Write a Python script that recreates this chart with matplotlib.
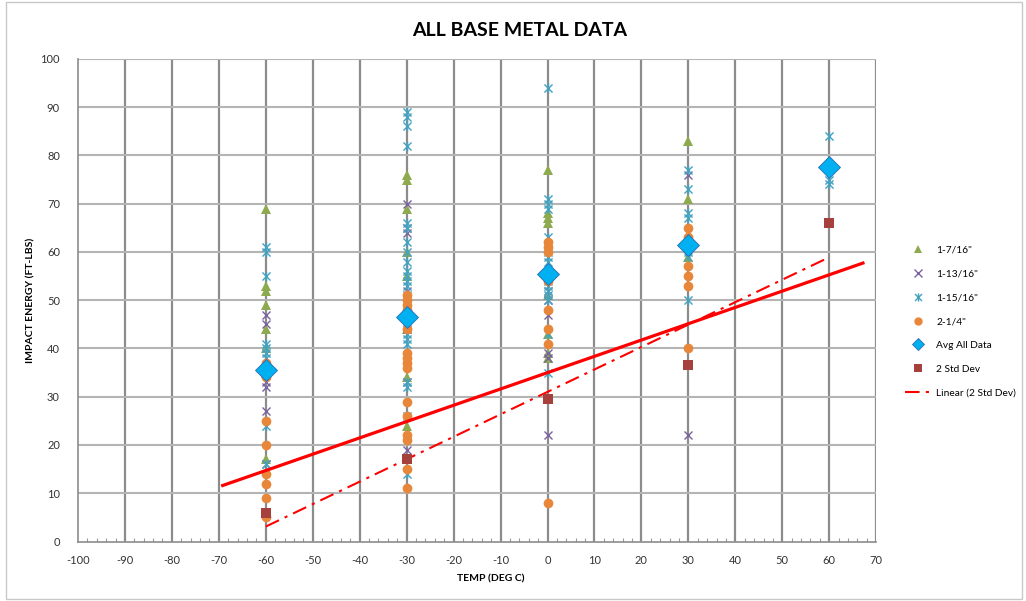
import numpy as np
import matplotlib
matplotlib.use("Agg")
import matplotlib.pyplot as plt
from matplotlib.path import Path
from matplotlib.patches import Rectangle
from matplotlib.ticker import MultipleLocator

plt.rcParams['font.family'] = ['Lato', 'DejaVu Sans']
plt.rcParams['axes.unicode_minus'] = False

# ---------------- data ----------------
title = "ALL BASE METAL DATA"
x_label = "TEMP (DEG C)"
y_label = "IMPACT ENERGY (FT-LBS)"

temps = [-60, -30, 0, 30, 60]

s1_name = '1-7/16"'
s1_vals = {-60: [69, 53, 52, 49, 44, 40, 35, 17],
           -30: [76, 75, 69, 60, 55, 44, 34, 24],
           0: [77, 68, 67, 66, 51, 43, 39, 38],
           30: [83, 71, 59],
           60: []}

s2_name = '1-13/16"'
s2_vals = {-60: [47, 45, 33, 32, 27, 16],
           -30: [70, 65, 64, 52, 44, 33, 19],
           0: [55, 52, 50, 47, 39, 38, 22],
           30: [76, 22],
           60: []}

s3_name = '1-15/16"'
s3_vals = {-60: [61, 60, 55, 41, 40, 39, 38, 24, 16],
           -30: [89, 88, 86, 82, 66, 65, 62, 60, 58, 56, 55, 54, 53, 51,
                 45, 43, 42, 41, 33, 32, 26, 14],
           0: [94, 71, 70, 69, 63, 60, 59, 58, 54, 53, 52, 51, 50, 43, 35],
           30: [77, 73, 68, 67, 60, 59, 50],
           60: [84, 75, 74]}

s4_name = '2-1/4"'
s4_vals = {-60: [37, 35, 34, 25, 20, 14, 12, 9, 5],
           -30: [51, 50, 49, 48, 47, 46, 44, 39, 38, 37, 36, 29, 26, 22, 21, 15, 11],
           0: [62, 61, 60, 56, 55, 54, 48, 44, 41, 8],
           30: [65, 63, 57, 55, 53, 40],
           60: []}

avg_name = "Avg All Data"
avg_vals = [35.5, 46.5, 55.5, 61.5, 77.5]

std_name = "2 Std Dev"
std_vals = [6, 17, 29.5, 36.5, 66]

trend_name = "Linear (2 Std Dev)"

solid_line_x = [-69.5, 67.5]
solid_line_y = [11.5, 57.8]

x_ticks = list(range(-100, 71, 10))
y_ticks = list(range(0, 101, 10))


def flatten(d):
    xs, ys = [], []
    for t in temps:
        for v in d[t]:
            xs.append(t)
            ys.append(v)
    return xs, ys


# asterisk marker (Excel "star")
M, L = Path.MOVETO, Path.LINETO
star = Path([(-1, -1), (1, 1), (-1, 1), (1, -1), (0, -1.2), (0, 1.2)],
            [M, L, M, L, M, L])

fig = plt.figure(figsize=(10.26, 6.01), dpi=100)
fig.patches.append(Rectangle((0.006, 0.004), 0.99, 0.992, transform=fig.transFigure,
                             fill=False, edgecolor='#c8c8c8', linewidth=1.0))
ax = fig.add_axes([0.076, 0.099, 0.778, 0.803])

ax.set_xlim(-100, 70)
ax.set_ylim(0, 100)
ax.set_xticks(x_ticks)
ax.set_yticks(y_ticks)
ax.xaxis.set_minor_locator(MultipleLocator(2))

ax.grid(False)
for xv in x_ticks[1:]:
    ax.axvline(xv, color='#8c8c8c', linewidth=1.6, zorder=0)
for yv in y_ticks[1:]:
    ax.axhline(yv, color='#b4b4b4', linewidth=1.5, zorder=0)

for sp in ['top', 'right']:
    ax.spines[sp].set_visible(False)
for sp in ['left', 'bottom']:
    ax.spines[sp].set_color('#8c8c8c')
    ax.spines[sp].set_linewidth(1.2)

ax.tick_params(axis='x', which='major', length=0, labelsize=8, pad=10, colors='#333333')
ax.tick_params(axis='x', which='minor', direction='in', length=3, width=0.8, color='#9a9a9a')
ax.tick_params(axis='y', which='major', length=0, labelsize=8, pad=13, colors='#333333')

x1, y1 = flatten(s1_vals)
x2, y2 = flatten(s2_vals)
x3, y3 = flatten(s3_vals)
x4, y4 = flatten(s4_vals)

h1, = ax.plot(x1, y1, linestyle='none', marker='^', markersize=7,
              color='#8EAA4E', markeredgewidth=0, label=s1_name, zorder=3)
h2, = ax.plot(x2, y2, linestyle='none', marker='x', markersize=6,
              color='#7A62A0', markeredgewidth=1.0, label=s2_name, zorder=3)
h3, = ax.plot(x3, y3, linestyle='none', marker=star, markersize=7,
              color='#44A3C1', markeredgewidth=1.0, label=s3_name, zorder=3)
h4, = ax.plot(x4, y4, linestyle='none', marker='o', markersize=7,
              color='#E8863A', markeredgewidth=0, label=s4_name, zorder=3)

ax.plot(solid_line_x, solid_line_y, color='#FF0000', linewidth=2.3,
        solid_capstyle='butt', zorder=4)

h5, = ax.plot(temps, avg_vals, linestyle='none', marker='D', markersize=11,
              color='#00B0F0', markeredgecolor='#2B6CB0', markeredgewidth=0.6,
              label=avg_name, zorder=5)
h6, = ax.plot(temps, std_vals, linestyle='none', marker='s', markersize=7,
              color='#A5403D', markeredgewidth=0, label=std_name, zorder=5)

coef = np.polyfit(temps, std_vals, 1)
tx = np.array([temps[0], temps[-1]])
h7, = ax.plot(tx, np.polyval(coef, tx), color='#FF0000', linewidth=1.5,
              dashes=(7, 3, 1.5, 3), label=trend_name, zorder=4)

fig.text(0.506, 0.950, title, ha='center', va='center', fontsize=14,
         fontweight='bold', color='#000000')
fig.text(0.478, 0.037, x_label, ha='center', va='center', fontsize=7.5,
         fontweight='bold', color='#000000')
fig.text(0.030, 0.500, y_label, ha='center', va='center', fontsize=7.5,
         fontweight='bold', rotation=90, color='#000000')

leg = fig.legend(handles=[h1, h2, h3, h4, h5, h6, h7],
                 loc='upper left', bbox_to_anchor=(0.878, 0.598),
                 frameon=False, fontsize=7.3, labelspacing=1.45,
                 handlelength=2.5, handletextpad=0.6, borderaxespad=0)
for hdl in leg.legend_handles[:6]:
    hdl.set_markersize(6)

fig.savefig("out.png", dpi=100)
